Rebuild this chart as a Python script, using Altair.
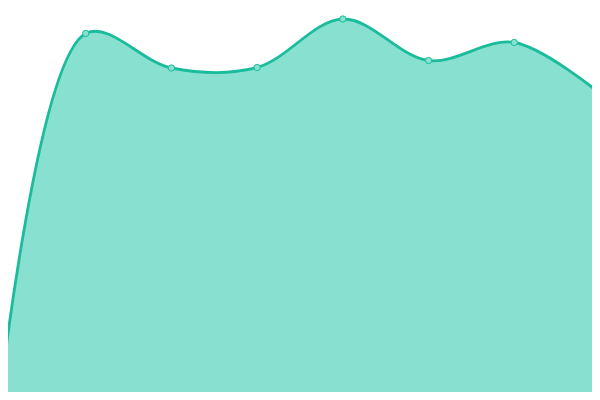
import altair as alt
import pandas as pd

# values (height above the bottom edge of the 400px canvas)
labels = [0, 1, 2, 3, 4, 5, 6, 7]
values = [2, 366.5, 332, 332.5, 381, 339.5, 357.5, 306.5]

df = pd.DataFrame({"i": labels, "v": values})

x = alt.X("i:Q", axis=None, scale=alt.Scale(domain=[0.0933, 6.907], nice=False, zero=False))
y = alt.Y("v:Q", axis=None, scale=alt.Scale(domain=[8, 392], nice=False, zero=False))

area = alt.Chart(df).mark_area(
    interpolate="catmull-rom", color="#88e0d0", opacity=1,
    line={"color": "#1abc9c", "strokeWidth": 2.8},
).encode(x=x, y=y)

pts = alt.Chart(df).mark_point(
    filled=True, fill="#88e0d0", stroke="#1abc9c", strokeWidth=1, size=40, opacity=1
).encode(x=x, y=y)

chart = (area + pts).properties(
    width=584, height=384,
    autosize=alt.AutoSizeParams(type="none"),
    padding=0,
).configure_view(strokeWidth=0)

chart.save("out.html", embed_options={"renderer": "svg", "actions": False})
